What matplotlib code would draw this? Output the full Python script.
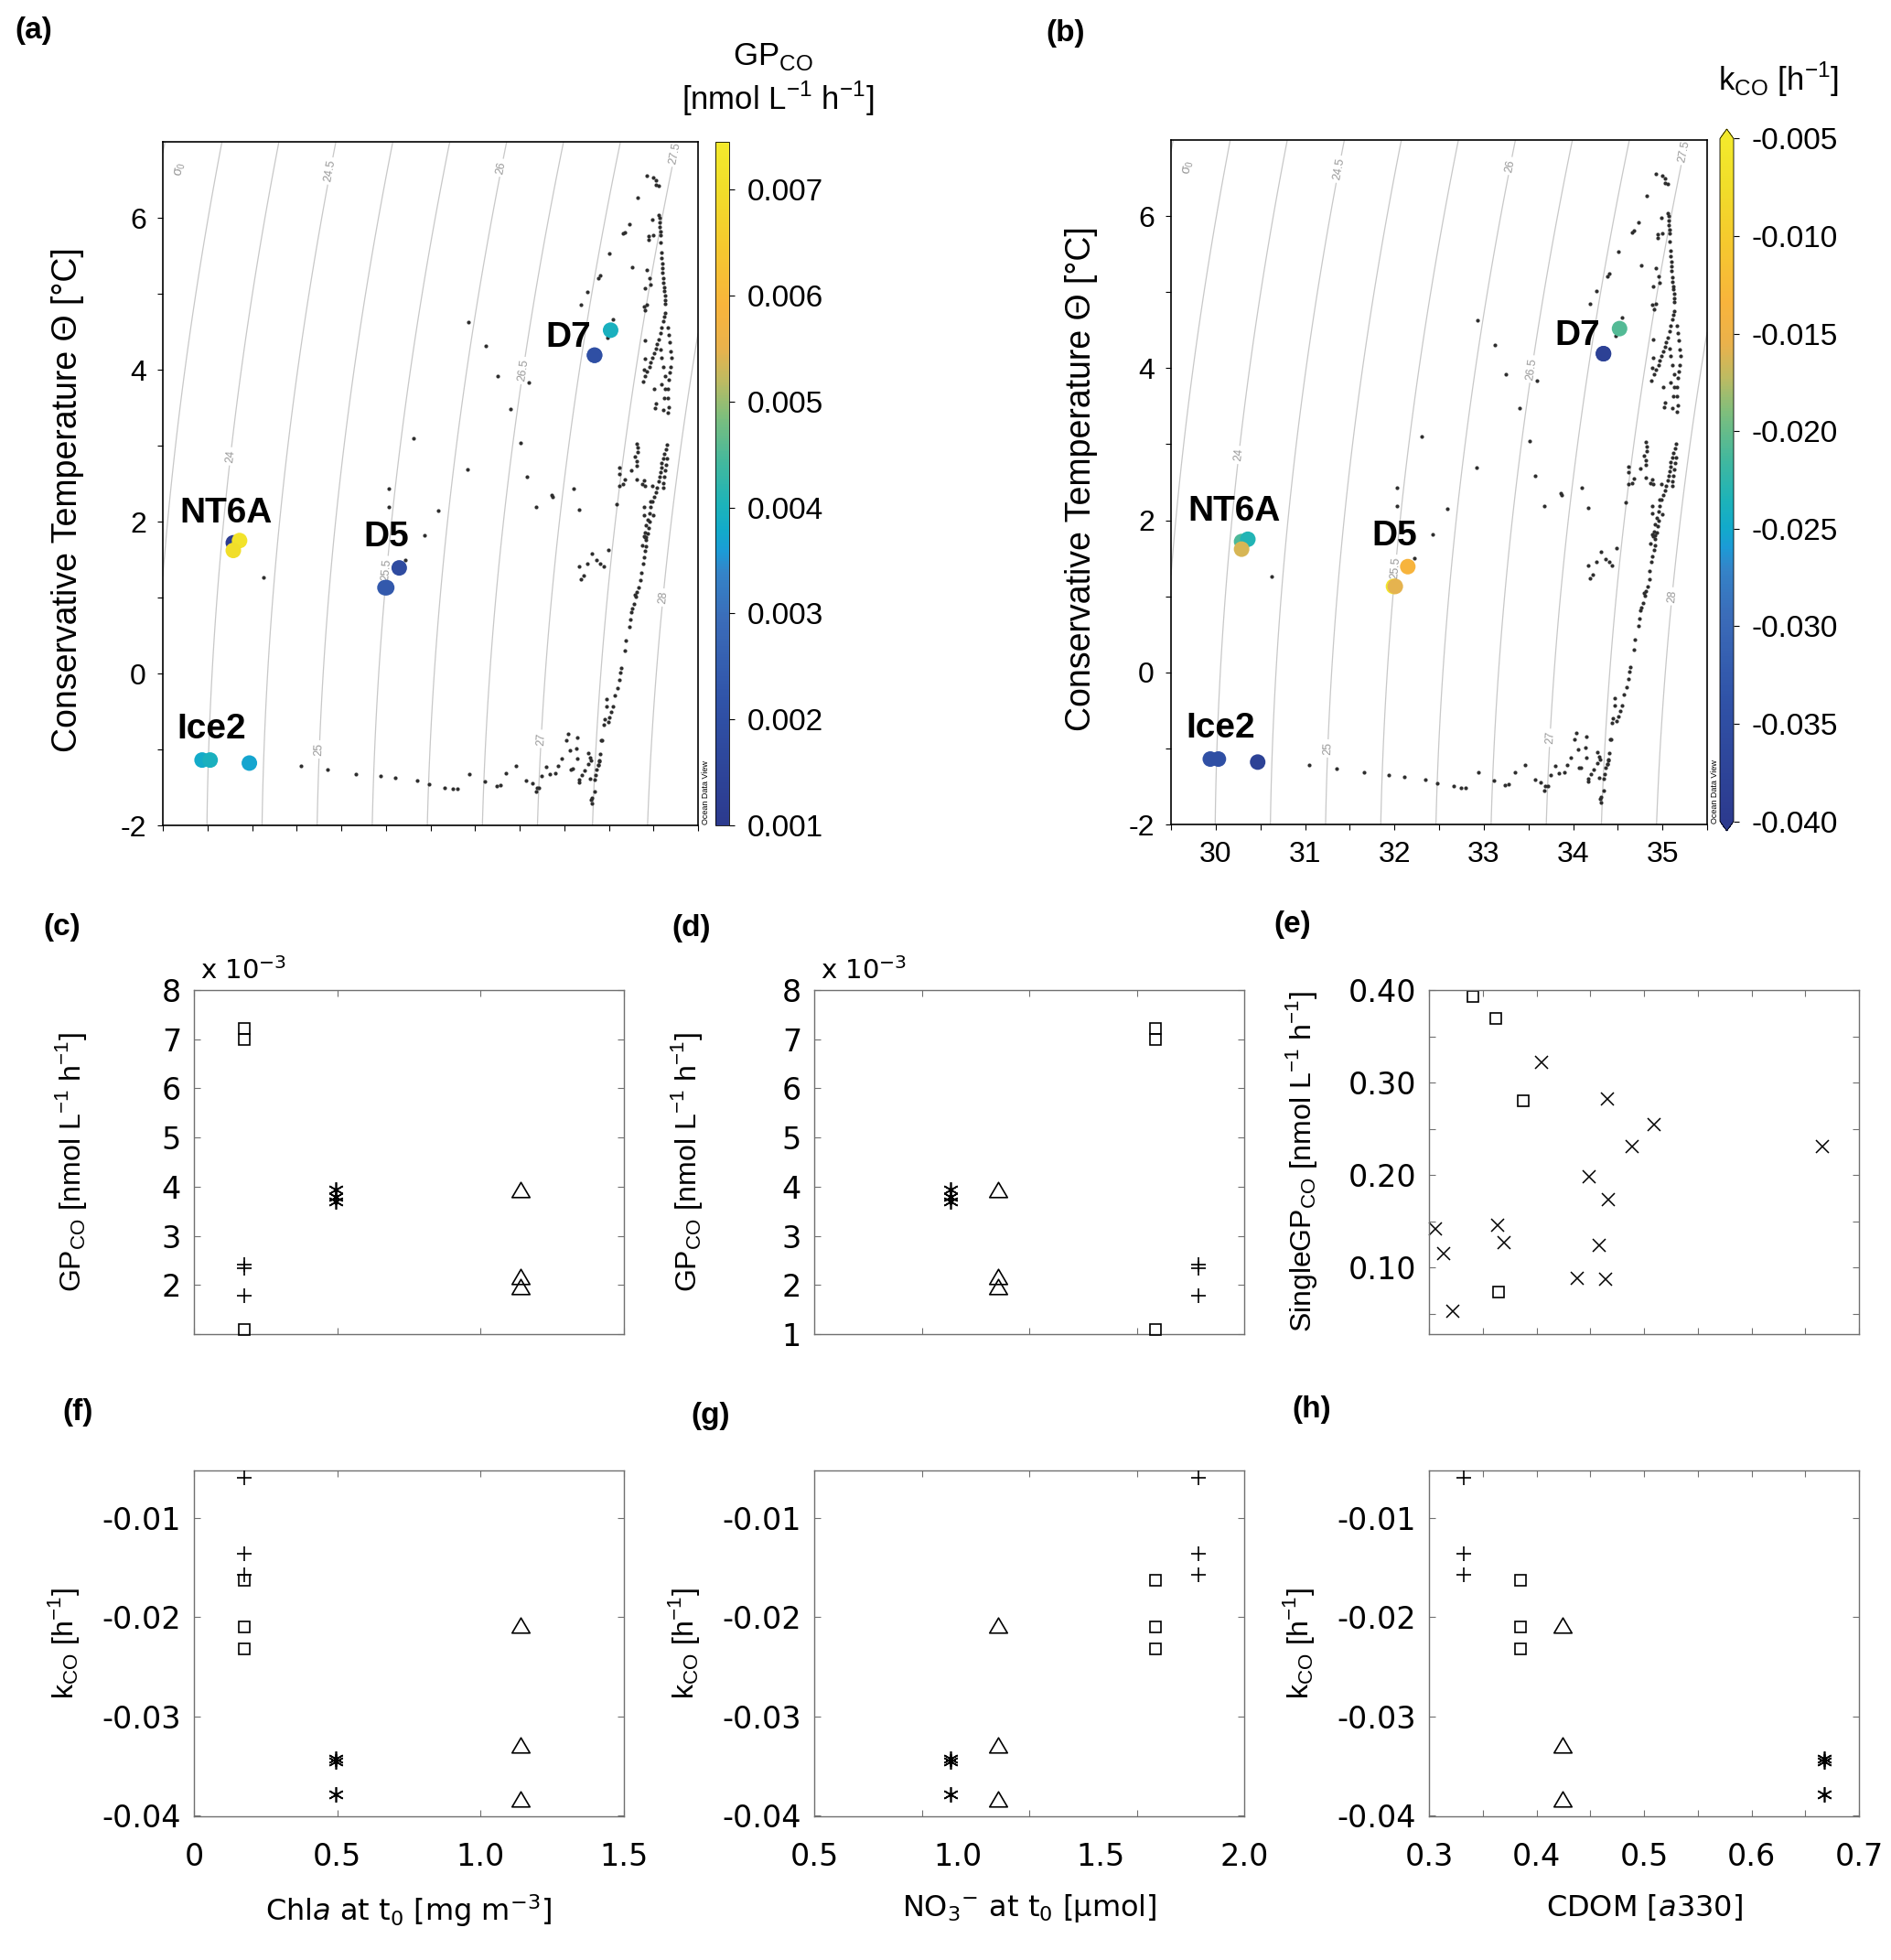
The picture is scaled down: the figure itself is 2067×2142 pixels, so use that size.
import numpy as np
import matplotlib
matplotlib.use('Agg')
import matplotlib.pyplot as plt
from matplotlib.colors import LinearSegmentedColormap, Normalize
from matplotlib.markers import MarkerStyle
from matplotlib.path import Path

plt.rcParams['font.family'] = ['Liberation Sans', 'DejaVu Sans']
plt.rcParams['axes.unicode_minus'] = False
plt.rcParams['mathtext.fontset'] = 'custom'
plt.rcParams['mathtext.rm'] = 'DejaVu Sans'
plt.rcParams['mathtext.it'] = 'DejaVu Sans:italic'

# ---------------- data ----------------
# 12 incubation samples, 3 per station
stations = ['NT6A', 'D5', 'D7', 'Ice2']
sample_station = [0, 0, 0, 1, 1, 1, 2, 2, 2, 3, 3, 3]
sample_sal = [30.29, 30.36, 30.29, 31.99, 32.01, 32.15, 34.52, 34.34, 34.34, 29.94, 30.03, 30.47]
sample_temp = [1.72, 1.75, 1.62, 1.13, 1.13, 1.39, 4.52, 4.19, 4.19, -1.14, -1.14, -1.18]
sample_gp = [0.00110, 0.00721, 0.00700, 0.00241, 0.00234, 0.00179,
             0.00395, 0.00217, 0.00197, 0.00380, 0.00395, 0.00370]
sample_k = [-0.0210, -0.0232, -0.0163, -0.0059, -0.0157, -0.0136,
            -0.0208, -0.0329, -0.0383, -0.0343, -0.0346, -0.0379]

# station properties
station_chla = [0.175, 0.175, 1.14, 0.495]
station_no3 = [1.69, 1.84, 1.14, 0.975]
station_cdom = [0.385, 0.332, 0.424, 0.668]

# single GP measurements (panel e)
single_sq_cdom = [0.341, 0.362, 0.388, 0.365]
single_sq_gp = [0.393, 0.369, 0.280, 0.074]
single_x_cdom = [0.306, 0.314, 0.322, 0.405, 0.364, 0.370, 0.466, 0.509,
                 0.489, 0.666, 0.449, 0.467, 0.458, 0.438, 0.464]
single_x_gp = [0.142, 0.115, 0.053, 0.322, 0.146, 0.127, 0.282, 0.255,
               0.231, 0.231, 0.198, 0.173, 0.124, 0.088, 0.087]

# CTD profile (salinity, conservative temperature)
ctd_profile = [
    (30.63, 1.26), (31.05, -1.22), (31.35, -1.27), (31.66, -1.32), (31.94, -1.35), (32.11, -1.37),
    (32.35, -1.41), (32.48, -1.46), (32.66, -1.50), (32.75, -1.52), (32.80, -1.52), (32.94, -1.32),
    (33.11, -1.42), (33.24, -1.48), (33.28, -1.47), (33.35, -1.31), (33.46, -1.22), (33.57, -1.41),
    (33.64, -1.45), (33.68, -1.55), (33.69, -1.50), (33.72, -1.50), (33.75, -1.35), (33.80, -1.23),
    (33.84, -1.33), (33.90, -1.31), (33.93, -1.22), (33.97, -1.12), (34.02, -0.88), (34.04, -0.80),
    (34.06, -1.01), (34.07, -1.26), (34.09, -1.25), (34.14, -0.99), (34.15, -1.12), (34.15, -0.84),
    (34.17, -1.40), (34.17, -1.43), (34.20, -1.34), (34.23, -1.28), (34.27, -1.19), (34.27, -1.05),
    (34.29, -1.11), (34.30, -1.15), (34.29, -1.39), (34.30, -1.66), (34.31, -1.71), (34.31, -1.64),
    (34.41, -0.88), (34.38, -1.21), (34.39, -1.16),
    (34.34, -1.56), (34.34, -1.40), (34.35, -1.34), (34.36, -1.26), (34.38, -1.20), (34.39, -1.15),
    (34.40, -1.06), (34.42, -0.88), (34.44, -0.67), (34.45, -0.60), (34.47, -0.43), (34.47, -0.34),
    (34.49, -0.64), (34.51, -0.58), (34.53, -0.51), (34.55, -0.43), (34.57, -0.29), (34.60, -0.19),
    (34.62, -0.09), (34.63, 0.01), (34.64, 0.07), (34.68, 0.30), (34.69, 0.43), (34.73, 0.61),
    (34.74, 0.71), (34.75, 0.81), (34.76, 0.85), (34.78, 0.91), (34.79, 1.04), (34.80, 1.01),
    (34.81, 1.07), (34.83, 1.13), (34.85, 1.23), (34.86, 1.33), (34.88, 1.45), (34.89, 1.53),
    (34.91, 1.61), (34.92, 1.67), (34.87, 1.69), (34.92, 1.76), (34.89, 1.81), (34.92, 1.80),
    (34.94, 1.84), (34.95, 1.92), (34.96, 2.00), (35.00, 2.08),
    (34.31, 1.58), (34.36, 1.49), (34.40, 1.45), (34.44, 1.41), (34.49, 1.63), (34.17, 1.41),
    (34.22, 1.29), (34.19, 1.24), (34.26, 1.45),
    (32.03, 2.43), (32.03, 2.19), (32.22, 1.50), (32.31, 3.10), (32.43, 1.82), (32.59, 2.15),
    (32.92, 2.69), (32.93, 4.63), (33.12, 4.31), (33.25, 3.92), (33.40, 3.48), (33.51, 3.04),
    (33.58, 2.59), (33.60, 3.83), (33.68, 2.19), (33.86, 2.35), (33.87, 2.33), (34.10, 2.43),
    (34.17, 2.16),
    (34.59, 2.23), (34.62, 2.47), (34.62, 2.63), (34.62, 2.71), (34.66, 2.49), (34.68, 2.55),
    (34.75, 2.68), (34.79, 2.85), (34.81, 2.56), (34.81, 2.73), (34.81, 2.79), (34.81, 3.03),
    (34.82, 2.91), (34.82, 2.97), (34.87, 2.49), (34.89, 2.09), (34.89, 2.19), (34.90, 2.47),
    (34.89, 2.54), (34.90, 1.79), (34.91, 1.85), (34.92, 1.95), (34.94, 2.03), (34.96, 2.11),
    (34.97, 2.19), (34.97, 2.27), (34.99, 2.27), (34.99, 2.47), (35.01, 2.33), (35.03, 2.39),
    (35.04, 2.45), (35.06, 2.53), (35.07, 2.59), (35.08, 2.65), (35.09, 2.71), (35.09, 2.77),
    (35.11, 2.83), (35.12, 2.89), (35.14, 2.95), (35.15, 3.01), (35.15, 2.83), (35.14, 2.75),
    (35.13, 2.67), (35.12, 2.59), (35.11, 2.51), (35.11, 2.45),
    (34.19, 4.85), (34.26, 5.02), (34.38, 5.21), (34.40, 5.24), (34.48, 4.42), (34.55, 4.66),
    (34.51, 5.53), (34.66, 5.79), (34.68, 5.81), (34.73, 5.92), (34.76, 5.35), (34.88, 3.84),
    (34.89, 4.00), (34.89, 4.83), (34.90, 4.14), (34.90, 4.38), (34.90, 5.07), (34.91, 3.92),
    (34.91, 4.78), (34.93, 3.98), (34.93, 4.85), (34.93, 5.31), (34.96, 4.04), (34.96, 5.21),
    (34.97, 4.10), (34.97, 5.12), (34.99, 4.16), (35.01, 4.22), (35.01, 3.75), (35.02, 3.49),
    (35.03, 3.55), (35.03, 4.28), (35.04, 4.34), (35.06, 4.40), (35.08, 4.48), (35.08, 4.26),
    (35.09, 4.16), (35.09, 4.56), (35.09, 3.81), (35.11, 4.64), (35.11, 4.04), (35.11, 3.47),
    (35.12, 4.70), (35.12, 3.63), (35.13, 3.92), (35.13, 3.75), (35.13, 4.75), (35.13, 4.87),
    (35.13, 4.92), (35.13, 4.98), (35.12, 5.04), (35.12, 5.08), (35.11, 5.14), (35.11, 5.20),
    (35.10, 5.28), (35.10, 5.34), (35.10, 5.40), (35.09, 5.47), (35.09, 5.54), (35.16, 4.56),
    (35.17, 4.46), (35.18, 4.36), (35.19, 4.24), (35.20, 4.16), (35.19, 4.04), (35.18, 3.96),
    (35.17, 3.87), (35.16, 3.75), (35.16, 3.63), (35.17, 3.51), (35.16, 3.43),
    (34.95, 5.71), (34.95, 5.76), (35.00, 5.77), (34.99, 5.98), (35.06, 6.04), (35.07, 6.00),
    (35.07, 5.94), (35.07, 5.88), (35.08, 5.82), (35.08, 5.77), (35.08, 5.67), (34.82, 6.27),
    (34.93, 6.56), (35.00, 6.53), (35.03, 6.49), (35.03, 6.43), (35.06, 6.42),
]
ctd_sal = [p[0] for p in ctd_profile]
ctd_temp = [p[1] for p in ctd_profile]

sigma_plain = [23.0, 23.5, 28.5]
sigma_labelled = [24, 24.5, 25, 25.5, 26, 26.5, 27, 27.5, 28]
label_spots = [(30.25, 2.86), (31.36, 6.62), (31.25, -1.0), (31.99, 1.37), (33.29, 6.66),
               (33.53, 3.99), (33.74, -0.86), (35.24, 6.85), (35.11, 1.0)]
station_label_pos = [(30.21, 2.11), (32.0, 1.79), (34.05, 4.42), (30.05, -0.74)]

gp_ticks = [0.001, 0.002, 0.003, 0.004, 0.005, 0.006, 0.007]
k_ticks = [-0.040, -0.035, -0.030, -0.025, -0.020, -0.015, -0.010, -0.005]

# parula-like map as printed in the figure
cmap_stops = [(0.00, '#2c3a8e'), (0.18, '#3053a8'), (0.30, '#3b6cb9'), (0.37, '#3484c8'),
              (0.40, '#1c9bd6'), (0.43, '#12aacb'), (0.47, '#1db3b9'), (0.53, '#42b89e'),
              (0.60, '#7fbe7c'), (0.65, '#bdbb62'), (0.70, '#eab24c'), (0.76, '#f8b43c'),
              (0.85, '#f5c92e'), (0.93, '#f1dd2a'), (1.00, '#f3e92c')]
parula = LinearSegmentedColormap.from_list('odv_parula', cmap_stops)


def sigma0(sa, ct):
    # one-atmosphere density (UNESCO 1981), salinity converted to practical scale
    s = sa / 1.0047
    t = ct
    rw = (999.842594 + 6.793952e-2 * t - 9.095290e-3 * t**2 + 1.001685e-4 * t**3
          - 1.120083e-6 * t**4 + 6.536332e-9 * t**5)
    a = 8.24493e-1 - 4.0899e-3 * t + 7.6438e-5 * t**2 - 8.2467e-7 * t**3 + 5.3875e-9 * t**4
    b = -5.72466e-3 + 1.0227e-4 * t - 1.6546e-6 * t**2
    return rw + a * s + b * s**1.5 + 4.8314e-4 * s**2 - 1000.0


W, H = 2067, 2142
fig = plt.figure(figsize=(W / 100, H / 100), dpi=100)


def box(l, t, r, b):
    return [l / W, 1 - b / H, (r - l) / W, (b - t) / H]


def ts_panel(ax, values, norm, show_xlabels):
    sg, tg = np.meshgrid(np.linspace(29.5, 35.5, 300), np.linspace(-2, 7, 300))
    dens = sigma0(sg, tg)
    ax.contour(sg, tg, dens, levels=sigma_plain, colors='#c8c8c8', linewidths=0.9, zorder=1)
    cs = ax.contour(sg, tg, dens, levels=sigma_labelled, colors='#c8c8c8',
                    linewidths=0.9, zorder=1)
    ax.clabel(cs, manual=label_spots, fmt=lambda v: f'{v:g}',
              fontsize=9, colors='#9a9a9a', inline=True, inline_spacing=3)
    ax.scatter(ctd_sal, ctd_temp, s=9, color='#2e2e2e', lw=0, zorder=2)
    sc = ax.scatter(sample_sal, sample_temp, c=values, cmap=parula, norm=norm,
                    s=150, lw=0, zorder=3)
    for name, (x, y) in zip(stations, station_label_pos):
        ax.text(x, y, name, fontsize=28, fontweight='bold', ha='center', va='center', zorder=4)
    ax.set_xlim(29.5, 35.5)
    ax.set_ylim(-2, 7)
    xt = [30, 31, 32, 33, 34, 35]
    ax.set_xticks(xt, [str(v) if show_xlabels else '' for v in xt], fontsize=23)
    ax.set_xticks(np.arange(29.5, 35.6, 0.5), minor=True)
    yt = [-2, 0, 2, 4, 6]
    ax.set_yticks(yt, [str(v) for v in yt], fontsize=23)
    ax.set_yticks([-1, 1, 3, 5], minor=True)
    ax.tick_params(which='both', direction='out', length=4, width=0.8, pad=9)
    for s in ax.spines.values():
        s.set_linewidth(1.2)
    ax.text(0.018, 0.972, 'σ$_\\mathregular{0}$', transform=ax.transAxes, rotation=80,
            fontsize=10, color='#9a9a9a', ha='left', va='top')
    ax.text(1.006, 0.002, 'Ocean Data View', transform=ax.transAxes, rotation=90,
            fontsize=6.5, ha='left', va='bottom')
    ax.set_ylabel('Conservative Temperature Θ [°C]', fontsize=27)
    return sc


# ---------------- (a) ----------------
ax_a = fig.add_axes(box(178, 155, 763, 902))
cax_a = fig.add_axes(box(782, 155, 797, 902))
norm_a = Normalize(vmin=0.001, vmax=0.00745)
sc_a = ts_panel(ax_a, sample_gp, norm_a, False)
ax_a.yaxis.set_label_coords(-0.147, 0.477)
cb_a = fig.colorbar(sc_a, cax=cax_a)
cb_a.set_ticks(gp_ticks, labels=[f'{v:.3f}' for v in gp_ticks], fontsize=24)
cb_a.outline.set_linewidth(0.6)
cax_a.tick_params(direction='out', length=4, width=0.8, pad=10)
fig.text(845 / W, 1 - 62 / H, 'GP$_\\mathregular{CO}$', fontsize=25, ha='center', va='center')
fig.text(850 / W, 1 - 108 / H, '[nmol L$^\\mathregular{-1}$ h$^\\mathregular{-1}$]',
         fontsize=25, ha='center', va='center')

# ---------------- (b) ----------------
ax_b = fig.add_axes(box(1280, 153, 1866, 901))
cax_b = fig.add_axes(box(1880, 141, 1895, 908))
norm_b = Normalize(vmin=-0.040, vmax=-0.005)
sc_b = ts_panel(ax_b, sample_k, norm_b, True)
ax_b.yaxis.set_label_coords(-0.137, 0.505)
cb_b = fig.colorbar(sc_b, cax=cax_b, extend='both', extendfrac=0.014)
cb_b.set_ticks(k_ticks, labels=[f'{v:.3f}' for v in k_ticks], fontsize=24)
cb_b.outline.set_linewidth(0.6)
cax_b.tick_params(direction='out', length=4, width=0.8, pad=10)
fig.text(1944 / W, 1 - 87 / H, 'k$_\\mathregular{CO}$ [h$^\\mathregular{-1}$]',
         fontsize=25, ha='center', va='center')

# ---------------- scatter panels ----------------
tri = MarkerStyle(Path([(-1.0, -0.85), (1.0, -0.85), (0.0, 0.85), (-1.0, -0.85)], closed=True))
st_marker = ['s', '+', tri, (6, 2, 0)]
st_size = [9, 12, 14, 12]


def style_small(ax, xlim, ylim):
    ax.set_xlim(*xlim)
    ax.set_ylim(*ylim)
    for s in ax.spines.values():
        s.set_color('#707070')
        s.set_linewidth(1.0)
    ax.tick_params(which='both', direction='in', top=True, right=True, length=5,
                   width=0.8, color='#707070')
    ax.tick_params(axis='x', pad=20)
    ax.tick_params(axis='y', pad=10)


def station_points(ax, xvals, yvals):
    for i in range(12):
        st = sample_station[i]
        ax.plot(xvals[st], yvals[i], ls='none', marker=st_marker[st], ms=st_size[st],
                mfc='none', mec='k', mew=1.2, clip_on=False, zorder=3)


tick_font = dict(fontsize=24, family='DejaVu Sans')
gp_label = 'GP$_\\mathregular{CO}$ [nmol L$^\\mathregular{-1}$ h$^\\mathregular{-1}$]'
k_label = 'k$_\\mathregular{CO}$ [h$^\\mathregular{-1}$]'
gp_scaled = [v * 1e3 for v in sample_gp]
k_yt = [-0.04, -0.03, -0.02, -0.01]
k_lim = (-0.0401, -0.0052)

top_row = (1082, 1458)
bot_row = (1607, 1985)
cols = [(212, 682), (890, 1360), (1562, 2032)]

ax_c = fig.add_axes(box(cols[0][0], top_row[0], cols[0][1], top_row[1]))
ax_d = fig.add_axes(box(cols[1][0], top_row[0], cols[1][1], top_row[1]))
ax_e = fig.add_axes(box(cols[2][0], top_row[0], cols[2][1], top_row[1]))
ax_f = fig.add_axes(box(cols[0][0], bot_row[0], cols[0][1], bot_row[1]))
ax_g = fig.add_axes(box(cols[1][0], bot_row[0], cols[1][1], bot_row[1]))
ax_h = fig.add_axes(box(cols[2][0], bot_row[0], cols[2][1], bot_row[1]))

# (c) and (f): Chla
for ax, yv, top in [(ax_c, gp_scaled, True), (ax_f, sample_k, False)]:
    style_small(ax, (0, 1.5), (1, 8) if top else k_lim)
    station_points(ax, station_chla, yv)
    xt = [0, 0.5, 1.0, 1.5]
    ax.set_xticks(xt, ['' if top else lab for lab in ['0', '0.5', '1.0', '1.5']], **tick_font)

# (d) and (g): NO3
for ax, yv, top in [(ax_d, gp_scaled, True), (ax_g, sample_k, False)]:
    style_small(ax, (0.5, 2.0), (1, 8) if top else k_lim)
    station_points(ax, station_no3, yv)
    xt = [0.5, 1.0, 1.5, 2.0]
    ax.set_xticks(xt, ['' if top else lab for lab in ['0.5', '1.0', '1.5', '2.0']], **tick_font)
    ax.set_xticks([0.875, 1.25, 1.625], minor=True)
    ax.tick_params(axis='x', which='major', length=0)

# (h): CDOM
style_small(ax_h, (0.3, 0.7), k_lim)
station_points(ax_h, station_cdom, sample_k)

# (e): single GP vs CDOM
style_small(ax_e, (0.3, 0.7), (0.028, 0.40))
ax_e.plot(single_sq_cdom, single_sq_gp, ls='none', marker='s', ms=9, mfc='none', mec='k',
          mew=1.2, clip_on=False)
ax_e.plot(single_x_cdom, single_x_gp, ls='none', marker='x', ms=9.5, mec='k', mew=1.1,
          clip_on=False)
for ax, top in [(ax_e, True), (ax_h, False)]:
    xt = [0.3, 0.4, 0.5, 0.6, 0.7]
    ax.set_xticks(xt, ['' if top else f'{v:.1f}' for v in xt], **tick_font)
    ax.set_xticks(np.arange(0.35, 0.7, 0.1), minor=True)

# y ticks
ax_c.set_yticks(range(1, 9), [''] + [str(v) for v in range(2, 9)], **tick_font)
ax_d.set_yticks(range(1, 9), [str(v) for v in range(1, 9)], **tick_font)
for ax in (ax_f, ax_g, ax_h):
    ax.set_yticks(k_yt, [f'{v:.2f}' for v in k_yt], **tick_font)
ey = [0.1, 0.2, 0.3, 0.4]
ax_e.set_yticks(ey, [f'{v:.2f}' for v in ey], **tick_font)
ax_e.set_yticks([0.05, 0.15, 0.25, 0.35], minor=True)

# axis labels
for ax, lab, x in [(ax_c, gp_label, -0.245), (ax_d, gp_label, -0.255),
                   (ax_f, k_label, -0.262), (ax_g, k_label, -0.262), (ax_h, k_label, -0.262)]:
    ax.set_ylabel(lab, fontsize=23)
    ax.yaxis.set_label_coords(x, 0.5)
ax_e.set_ylabel('SingleGP$_\\mathregular{CO}$ [nmol L$^\\mathregular{-1}$ h$^\\mathregular{-1}$]',
                fontsize=23)
ax_e.yaxis.set_label_coords(-0.256, 0.5)

xlab_font = dict(fontsize=23, family='DejaVu Sans')
ax_f.set_xlabel('Chl$\\mathit{a}$ at t$_\\mathregular{0}$ [mg m$^\\mathregular{-3}$]', **xlab_font)
ax_g.set_xlabel('NO$_\\mathregular{3}$$^\\mathregular{-}$ at t$_\\mathregular{0}$ [µmol]',
                **xlab_font)
ax_h.set_xlabel('CDOM [$\\mathit{a}$330]', **xlab_font)
for ax in (ax_f, ax_g, ax_h):
    ax.xaxis.set_label_coords(0.5, -0.22)

for ax in (ax_c, ax_d):
    ax.text(0.015, 1.015, 'x 10$^\\mathregular{-3}$', transform=ax.transAxes, fontsize=21,
            family='DejaVu Sans', ha='left', va='bottom')

# panel letters
letters = [('(a)', 16, 18), ('(b)', 1143, 21), ('(c)', 47, 998), ('(d)', 734, 999),
           ('(e)', 1392, 995), ('(f)', 68, 1528), ('(g)', 755, 1532), ('(h)', 1412, 1525)]
for txt, x, y in letters:
    fig.text(x / W, 1 - y / H, txt, fontsize=24, fontweight='bold', ha='left', va='top')

fig.savefig('out.png', dpi=100)
